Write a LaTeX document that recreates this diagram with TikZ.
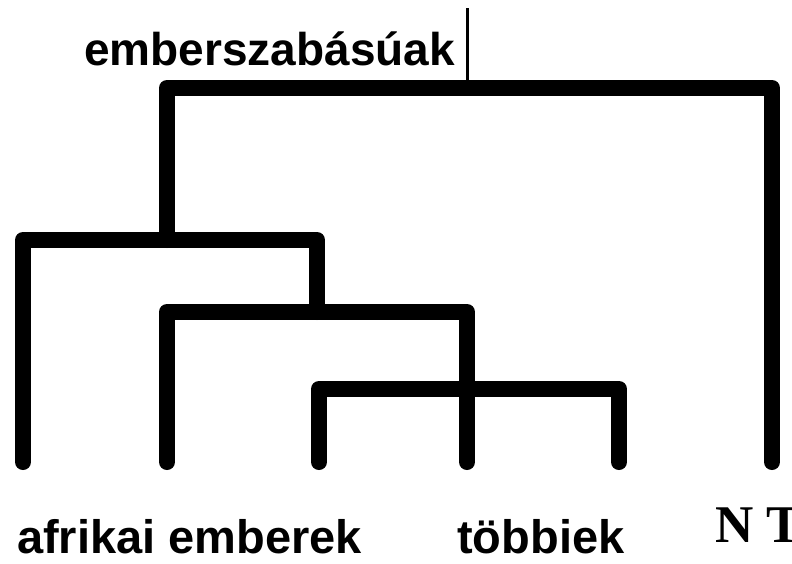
\documentclass[tikz,border=0pt]{standalone}
\usepackage{fontspec}
\setmainfont{Liberation Sans}
\newfontfamily\serifbold{Liberation Serif}
\tikzset{
  branch/.style={line width=16pt, line join=round, line cap=round, black},
  stem/.style={line width=3pt, black},
  lbl/.style={anchor=base west, inner sep=0pt, font=\fontsize{47}{50}\selectfont\bfseries},
  toplbl/.style={anchor=base west, inner sep=0pt, font=\fontsize{46}{50}\selectfont\bfseries},
  ntlbl/.style={anchor=base west, inner sep=0pt, font=\fontsize{53}{56}\selectfont\serifbold\bfseries},
}
\begin{document}
\begin{tikzpicture}[x=1pt,y=-1pt]
\fill[white] (0,0) rectangle (792,563);
\useasboundingbox (0,0) rectangle (792,563);
% leaves (bottom ends)
\coordinate (l1) at (23,462);
\coordinate (l2) at (167,462);
\coordinate (l3) at (319,462);
\coordinate (l4) at (467,462);
\coordinate (l5) at (619,462);
\coordinate (l6) at (772,462);
% bar levels
\coordinate (ya) at (0,389);
\coordinate (yb) at (0,312);
\coordinate (yc) at (0,240);
\coordinate (yd) at (0,88);
\coordinate (top) at (467,8);
\coordinate (topbar) at (467,82);
% bracket A
\draw[branch] (l3) |- (l5 |- ya) -- (l5);
% bracket B
\draw[branch] (l2) |- (l4 |- yb) -- (l4);
% bracket C
\coordinate (cR) at (317,312);
\draw[branch] (l1) |- (cR |- yc) -- (cR);
% bracket D
\coordinate (dL) at (167,240);
\draw[branch] (dL) |- (l6 |- yd) -- (l6);
% root stem
\draw[stem] (top) -- (topbar);
% labels
\node[toplbl] (root) at (84,65) {emberszabásúak};
\node[lbl] (afr) at (17,553) {afrikai emberek};
\node[lbl] (tob) at (457,553) {többiek};
\node[ntlbl] (nt) at (715,542) {N T};
\end{tikzpicture}
\end{document}
